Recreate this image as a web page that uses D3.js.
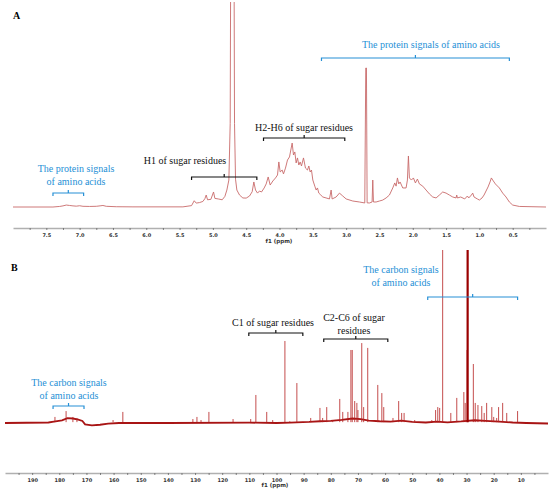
<!DOCTYPE html>
<html>
<head>
<meta charset="utf-8">
<script src="https://cdnjs.cloudflare.com/ajax/libs/d3/7.8.5/d3.min.js"></script>
<style>
  body { margin: 0; background: #fff; }
  .anno { font-family: "Liberation Serif", "Times New Roman", serif; font-size: 10px; }
  .tick text { font-family: "DejaVu Sans", Verdana, sans-serif; font-size: 5px; font-weight: bold; fill: #333; }
</style>
</head>
<body>
<script>
// 1H spectrum, [shift ppm, relative intensity] (peak at 2.70 = 100)
var protonSpectrum = [
  [8.0,0],[7.4,0],[7.3,0.4],[7.25,0.8],[7.2,1.4],[7.15,1.1],[7.1,0.8],[7.05,0.6],[7.0,0.9],[6.95,0.5],
  [6.85,0.4],[6.75,0.5],[6.68,0.9],[6.65,1.1],[6.6,0.5],[6.45,0.2],[6.2,0.1],[5.45,0.1],[5.32,1.0],
  [5.28,4.5],[5.25,2.8],[5.2,3.2],[5.15,4.0],[5.12,6.0],[5.1,8.6],[5.08,5.2],[5.03,5.5],[4.99,10.8],
  [4.97,6.2],[4.92,5.8],[4.86,5.2],[4.82,7.6],[4.79,12.2],[4.76,19.4],[4.74,60],[4.725,300],[4.69,300],
  [4.675,60],[4.66,20],[4.64,12.2],[4.6,8.6],[4.55,6.5],[4.5,6.4],[4.45,7.9],[4.41,11],[4.385,18],
  [4.36,12.2],[4.33,10],[4.3,11.5],[4.27,10.8],[4.23,13.7],[4.2,16.6],[4.17,21.6],[4.14,15.8],[4.1,18.7],
  [4.06,20.9],[4.03,23],[4.01,32.4],[3.99,25.2],[3.96,26.6],[3.94,23.8],[3.91,28],[3.88,33.8],[3.85,36],
  [3.83,41],[3.81,46],[3.79,37.4],[3.77,39.6],[3.75,31.7],[3.73,35.3],[3.71,30.2],[3.69,32.4],[3.67,29.5],
  [3.64,35.3],[3.61,28],[3.58,26.6],[3.56,29.5],[3.54,25.2],[3.52,26.6],[3.5,19.4],[3.47,15],[3.45,12.2],
  [3.43,13.7],[3.41,10],[3.38,8.6],[3.35,7.2],[3.3,6.5],[3.25,5.8],[3.225,12.2],[3.21,5.8],[3.15,7.2],
  [3.1,10],[3.05,7.9],[3.0,5.8],[2.9,4.3],[2.8,3.6],[2.72,2.9],[2.705,100],[2.695,100],[2.685,3],
  [2.65,2.9],[2.61,3.6],[2.6,19.4],[2.59,3.6],[2.55,3.6],[2.5,4.3],[2.45,5],[2.4,6.5],[2.35,8.6],
  [2.3,13.7],[2.27,17.3],[2.25,15],[2.23,20.9],[2.21,16.6],[2.19,18],[2.15,13.7],[2.1,13.7],[2.08,19.4],
  [2.065,36.7],[2.05,20.9],[2.02,19.4],[1.99,20.9],[1.96,17.3],[1.93,20.1],[1.9,16.6],[1.85,15],[1.8,12.2],
  [1.75,9.4],[1.7,7.2],[1.65,6.5],[1.6,8.6],[1.55,10.8],[1.5,10],[1.45,8.6],[1.4,7.2],[1.35,6.5],
  [1.34,8.6],[1.33,6.5],[1.28,7.2],[1.22,5.8],[1.18,7.9],[1.16,6.5],[1.12,8.6],[1.1,10],[1.08,7.2],
  [1.03,5.8],[1.0,5],[0.96,6.5],[0.93,8.6],[0.9,11.5],[0.87,14.4],[0.84,18],[0.82,20.9],[0.8,19.4],
  [0.76,16.6],[0.7,13.7],[0.65,10],[0.6,7.2],[0.55,3.6],[0.5,1.4],[0.4,0.4],[0.0,0]
];

// 13C spectrum: baseline drift and peak heights, [shift ppm, relative intensity]
var carbonBaseline = [
  [200,0],[184,0.3],[182,0.8],[179,1.5],[177,2.8],[175,2.6],[173,2],[171.5,1.2],[170.5,-0.8],[168,-1.4],
  [165,-1.0],[162,-0.4],[158,0],[140,0],[110,0.2],[100,0],[95,0.2],[88,0.6],[84,1.0],[80,1.2],[76,1.8],
  [72,2.6],[69,2.2],[66,1.4],[62,1.0],[58,0.8],[54,1.4],[50,0.6],[45,0.3],[41,0.8],[37,0.4],[32,0.9],
  [27,1.6],[23,1.2],[18,0.8],[13,0.3],[8,0],[0,-0.3]
];
var carbonPeaks = [
  [181.6,3.5],[177.5,6.9],[175,3.5],[173.5,2.9],[160.2,1.7],[156.6,6.4],[130.8,2.3],[129.3,3.5],
  [127.8,1.7],[124.9,6.4],[116,2.3],[109.5,2.3],[107.6,16.2],[103.6,6.4],[101.4,1.7],[96.9,47.4],
  [95.1,1],[92.5,23.1],[87.4,2.9],[84,8.7],[83,2.9],[81.5,9.2],[79.3,1.7],[76.7,13.9],[75.6,6.4],
  [73.7,6.4],[72.6,42.2],[72.1,42.2],[71.2,12.7],[70.4,11.6],[70,7.5],[68.6,46.2],[67.9,9.2],[66.4,43.4],
  [62.7,22],[61.2,17.3],[60.5,9.2],[57.1,2.9],[55,12.7],[53.9,5.8],[53,5.8],[49.1,1.7],[42.8,1.7],
  [41.4,7.5],[40.6,9.2],[39.9,8.7],[38.8,150],[35.8,5.8],[33.6,14.5],[31,17.9],[30.5,11.6],[29.8,42.2],
  [29.6,150],[27.5,34.1],[26.8,11.6],[25.8,10.4],[24.4,9.8],[23.5,5.8],[22.6,11.6],[20.7,9.2],[20,3.5],
  [18.9,2.9],[18.2,9.2],[16.7,11.6],[15.2,5.8],[11.2,6.9]
];
var solventPeak = 29.6;

// axis ticks
var protonTicks = d3.range(0.25, 8, 0.25);
var protonLabels = d3.range(1, 16).map(function(d){ return d * 0.5; });
var carbonTicks = d3.range(5, 200, 5);
var carbonLabels = d3.range(1, 20).map(function(d){ return d * 10; });

// annotations: text lines, bracket range (ppm)
var protonAnnoText = [["The protein signals","of amino acids"],["H1 of sugar residues"],["H2-H6 of sugar residues"],["The protein signals of amino acids"]];
var protonAnnoRange = [[7.4,6.94],[5.32,4.34],[4.24,3.02],[3.37,0.55]];
var carbonAnnoText = [["The carbon signals","of amino acids"],["C1 of sugar residues"],["C2-C6 of sugar","residues"],["The carbon signals","of amino acids"]];
var carbonAnnoRange = [[182.3,170.9],[110.2,90.3],[82.6,59],[44.3,11.2]];
var annoColors = ["#2690d6","#111","#111","#2690d6"];

// layout
var W = 550, H = 493;
var blue = "#2690d6";
var svg = d3.select("body").append("svg").attr("width", W).attr("height", H);

var xA = d3.scaleLinear().domain([8.0, 0.0]).range([13, 546]);
var yA = d3.scaleLinear().domain([0, 100]).range([207, 68]);
var xB = d3.scaleLinear().domain([200, 0]).range([5, 548]);
var yB = d3.scaleLinear().domain([0, 100]).range([423, 250]);

var defs = svg.append("defs");
defs.append("clipPath").attr("id","clipA").append("rect").attr("x",0).attr("y",2).attr("width",W).attr("height",224);
defs.append("clipPath").attr("id","clipB").append("rect").attr("x",0).attr("y",250).attr("width",W).attr("height",220);

// panel letters
svg.append("text").attr("x",13).attr("y",19).text("A")
  .style("font-family","Liberation Serif, serif").style("font-weight","bold").style("font-size","10px");
svg.append("text").attr("x",11).attr("y",271).text("B")
  .style("font-family","Liberation Serif, serif").style("font-weight","bold").style("font-size","10px");

// spectrum A
var lineA = d3.line().x(function(d){ return xA(d[0]); }).y(function(d){ return yA(d[1]); });
svg.append("g").attr("clip-path","url(#clipA)").append("path")
  .datum(protonSpectrum)
  .attr("d", lineA)
  .attr("fill","none")
  .attr("stroke","#c86a6a")
  .attr("stroke-width",0.9)
  .attr("stroke-linejoin","round");

// spectrum B
var gB = svg.append("g").attr("clip-path","url(#clipB)");
var lineB = d3.line().x(function(d){ return xB(d[0]); }).y(function(d){ return yB(d[1]); });
gB.append("path")
  .datum(carbonBaseline)
  .attr("d", lineB)
  .attr("fill","none")
  .attr("stroke","#a81414")
  .attr("stroke-width",1.8);
gB.selectAll("line.peak").data(carbonPeaks).enter().append("line")
  .attr("class","peak")
  .attr("x1", function(d){ return xB(d[0]); })
  .attr("x2", function(d){ return xB(d[0]); })
  .attr("y1", yB(0.5))
  .attr("y2", function(d){ return yB(d[1]); })
  .attr("stroke", function(d){ return d[0] === solventPeak ? "#9a0000" : "#b52020"; })
  .attr("stroke-width", function(d){ return d[0] === solventPeak ? 2.2 : 0.8; });

// axes
function drawAxis(scale, ticks, labels, y, fmt, unitX, unitY) {
  var axis = d3.axisBottom(scale)
    .tickValues(ticks)
    .tickSize(2)
    .tickSizeOuter(0)
    .tickPadding(3)
    .tickFormat(function(d){
      var hit = labels.some(function(l){ return Math.abs(l - d) < 1e-6; });
      return hit ? fmt(d) : "";
    });
  var g = svg.append("g").attr("transform","translate(0," + y + ")").call(axis);
  g.select(".domain").attr("stroke","#b0b0b0").attr("stroke-width",1.6);
  g.selectAll(".tick line").attr("stroke","#666").attr("stroke-width",0.8);
  svg.append("text").attr("x",unitX).attr("y",unitY).attr("text-anchor","middle")
    .text("f1 (ppm)")
    .style("font-family","DejaVu Sans, Verdana, sans-serif").style("font-weight","bold")
    .style("font-size","5.5px").style("fill","#333");
}
drawAxis(xA, protonTicks, protonLabels, 228, d3.format(".1f"), 279, 243);
drawAxis(xB, carbonTicks, carbonLabels, 473, d3.format("d"), 275, 487);

// annotation brackets
function bracket(x1, x2, xm, y, color) {
  var p = d3.path();
  p.moveTo(x1, y + 3); p.lineTo(x1, y); p.lineTo(x2, y); p.lineTo(x2, y + 3);
  p.moveTo(xm, y); p.lineTo(xm, y - 3);
  svg.append("path").attr("d", p.toString()).attr("fill","none")
    .attr("stroke", color).attr("stroke-width", 1.2);
}
function annotate(texts, ranges, scale, layout) {
  texts.forEach(function(lines, i){
    var L = layout[i];
    var x1 = scale(ranges[i][0]), x2 = scale(ranges[i][1]);
    bracket(x1, x2, (x1 + x2) / 2, L[2], annoColors[i]);
    lines.forEach(function(t, j){
      svg.append("text").attr("class","anno")
        .attr("x", L[0]).attr("y", L[1] + j * 12.5)
        .attr("text-anchor","middle")
        .style("fill", annoColors[i])
        .text(t);
    });
  });
}
// [text centre x, first baseline y, bracket y]
annotate(protonAnnoText, protonAnnoRange, xA, [[76,172,193],[185,164,177],[304,131,138],[431,48,58]]);
annotate(carbonAnnoText, carbonAnnoRange, xB, [[69,386,406],[273,326,333],[354,321,339],[401,273,297]]);
</script>
</body>
</html>
